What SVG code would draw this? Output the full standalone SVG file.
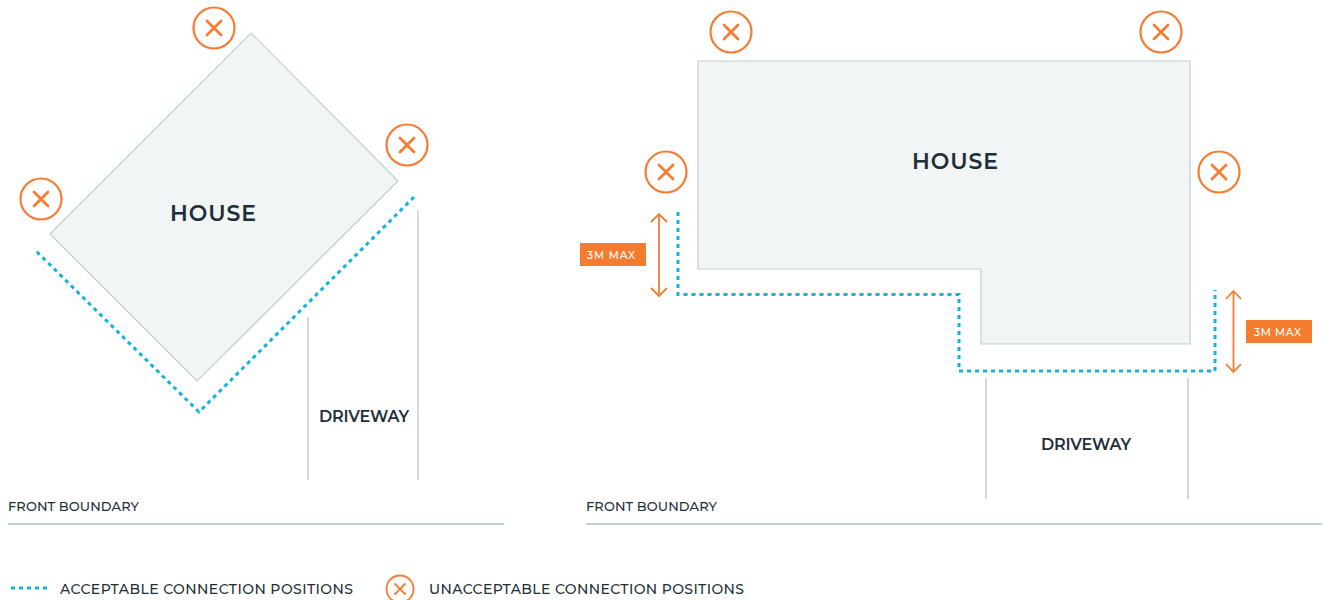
<svg xmlns="http://www.w3.org/2000/svg" width="1323" height="600" viewBox="0 0 1323 600">
<style>
text{font-family:"Montserrat","Inter","Liberation Sans",sans-serif;fill:#1f2f38;font-weight:500}
.house{fill:#f1f5f6;stroke:#bfcfcf;stroke-width:1.2}
.big{font-size:22px;font-weight:600}
.mid{font-size:16px;font-weight:600}
.small{font-size:13px}
.leg{font-size:14px}
.tag{font-size:10.5px;fill:#fff}
.line{stroke:#a9b3b5;stroke-width:1;fill:none}
.bound{stroke:#b3c0c0;stroke-width:1.3;fill:none}
.dot{stroke:#12b3dc;stroke-width:3;stroke-dasharray:4 4;fill:none}
.ring{fill:#fff;stroke:#f57c32;stroke-width:2.200}
.x{stroke:#f57c32;stroke-width:2.800;stroke-linecap:round;fill:none}
.arr{stroke:#f57c32;stroke-width:1.800;fill:none}
.rect{fill:#f57c2e}
</style>
<defs>
<g id="no"><circle class="ring" r="20.500"/><path class="x" d="M-7 -7L7 7M7 -7L-7 7"/></g>
</defs>
<g id="connectors">
<path class="dot" d="M414 197L199 412L34 249"/>
<path class="dot" d="M678 212V294.500H959V371H1215V290"/>
<path class="line" d="M308 317V480M418 210V480M986 378V499M1188 378V499"/>
<path class="bound" d="M8 524H504M586 524H1322"/>
<path class="arr" d="M659 214V296M651 222L659 214L667 222M651 288L659 296L667 288"/>
<path class="arr" d="M1233.500 291V372M1226 299L1233.500 291L1241 299M1226 364L1233.500 372L1241 364"/>
<path class="dot" d="M11 588H47"/>
</g>
<g id="house-left"><path class="house" d="M251 33L398 181L197 381L50 234Z"/><text class="big" x="213" y="221" text-anchor="middle" textLength="86">HOUSE</text></g>
<g id="house-right"><path class="house" d="M698 61H1190V344H981V269H698Z"/><text class="big" x="955" y="169" text-anchor="middle" textLength="86">HOUSE</text></g>
<g id="no-1"><use href="#no" x="214" y="28"/></g>
<g id="no-2"><use href="#no" x="407" y="145"/></g>
<g id="no-3"><use href="#no" x="41" y="199"/></g>
<g id="no-4"><use href="#no" x="731" y="32"/></g>
<g id="no-5"><use href="#no" x="1161" y="32"/></g>
<g id="no-6"><use href="#no" x="666" y="172"/></g>
<g id="no-7"><use href="#no" x="1219" y="172"/></g>
<g id="tag-left"><rect class="rect" x="580" y="243" width="66" height="23"/><text class="tag" x="587" y="259" textLength="48">3M MAX</text></g>
<g id="tag-right"><rect class="rect" x="1246" y="320" width="66" height="23"/><text class="tag" x="1254" y="336" textLength="47">3M MAX</text></g>
<g id="driveway-left"><text class="mid" x="319" y="422" textLength="90">DRIVEWAY</text></g>
<g id="driveway-right"><text class="mid" x="1041" y="450" textLength="90">DRIVEWAY</text></g>
<g id="boundary-left"><text class="small" x="8" y="511" textLength="131">FRONT BOUNDARY</text></g>
<g id="boundary-right"><text class="small" x="586" y="511" textLength="131">FRONT BOUNDARY</text></g>
<g id="legend">
<text class="leg" x="60" y="594" textLength="293">ACCEPTABLE CONNECTION POSITIONS</text>
<circle class="ring" cx="400" cy="589" r="13.500" style="stroke-width:1.800"/><path class="x" style="stroke-width:1.800" d="M395 584L405 594M405 584L395 594"/>
<text class="leg" x="429" y="594" textLength="315">UNACCEPTABLE CONNECTION POSITIONS</text>
</g>
</svg>
